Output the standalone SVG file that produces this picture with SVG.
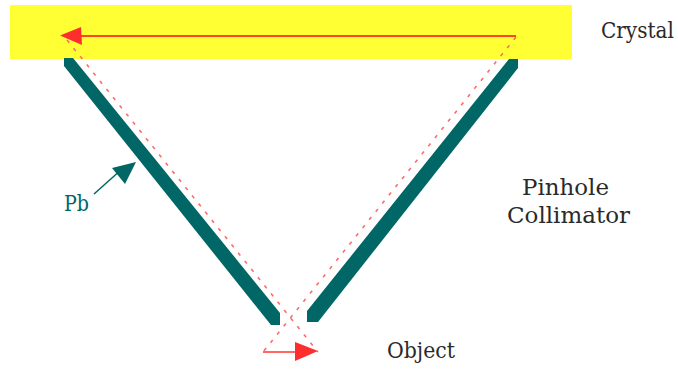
<svg xmlns="http://www.w3.org/2000/svg" width="678" height="372" viewBox="0 0 678 372">
<style>
.lbl{font-family:"DejaVu Serif","Liberation Serif",serif;font-size:23px;fill:#2a2a2a}
.wall{fill:#006666}
.dash{fill:none;stroke:#ff6a6a;stroke-width:1.6;stroke-dasharray:3.5 7}
.ray{fill:none;stroke:#ff4422;stroke-width:2}
.head{fill:#ff2e2e}
</style>
<rect width="678" height="372" fill="#fff"/>
<g id="crystal"><rect x="10" y="5" width="562" height="54" fill="#ffff33"/><text class="lbl" transform="translate(601,38) scale(.87,1)">Crystal</text></g>
<g id="wall-left"><polygon class="wall" points="64,58 73,58 280,313 280,325 271,325 64,66"/></g>
<g id="wall-right"><polygon class="wall" points="509,59 518,59 518,68 318,322 307,322 307,311"/></g>
<g id="connectors">
<path class="dash" d="M516,37 L263,352"/>
<path class="dash" d="M67,40 L318,352"/>
<path class="ray" d="M516,36 L78,36"/>
<polygon class="head" points="60,35.5 81,27 82,45"/>
<path d="M263,352 L296,352" fill="none" stroke="#ff3333" stroke-width="1.5"/>
<polygon class="head" points="318,351 295,342 295,361"/>
<path d="M94,194 L122,169" fill="none" stroke="#006666" stroke-width="1.5"/>
<polygon class="wall" points="136,162 112,168 125,184"/>
</g>
<g id="pb"><text class="lbl" x="64" y="211" style="fill:#006666" textLength="25" lengthAdjust="spacingAndGlyphs">Pb</text></g>
<g id="collimator"><text class="lbl" x="522" y="195" textLength="87" lengthAdjust="spacingAndGlyphs">Pinhole</text><text class="lbl" x="507" y="223" textLength="123" lengthAdjust="spacingAndGlyphs">Collimator</text></g>
<g id="object"><text class="lbl" x="387" y="358" textLength="68" lengthAdjust="spacingAndGlyphs">Object</text></g>
</svg>
